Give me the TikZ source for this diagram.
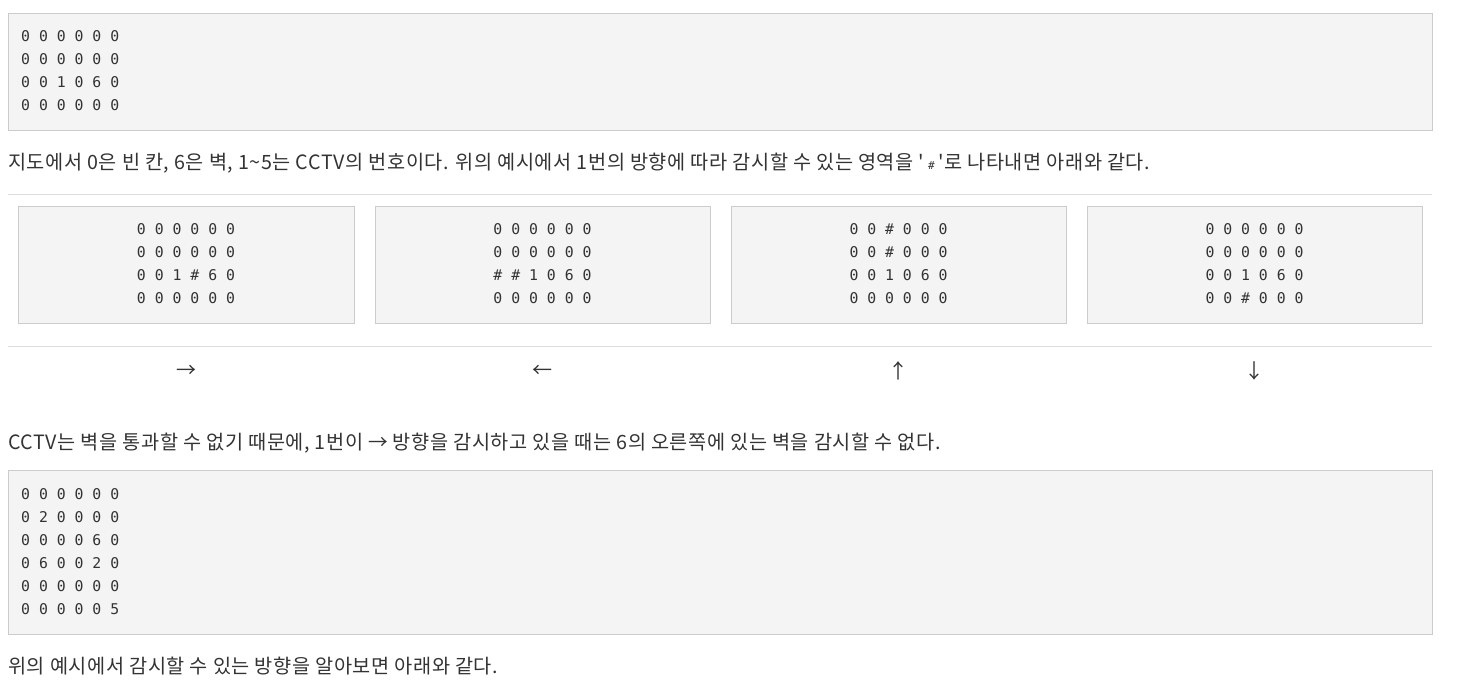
\documentclass[tikz,border=0pt]{standalone}
\usepackage{fontspec}
\setmainfont{Noto Sans CJK KR}
\newfontfamily\bodyfont[LetterSpace=3]{Noto Sans CJK KR}
\newfontfamily\codefont{DejaVu Sans Mono}
\definecolor{boxgray}{HTML}{F4F4F4}
\definecolor{boxline}{HTML}{CCCCCC}
\definecolor{ruleline}{HTML}{DDDDDD}
\definecolor{inkgray}{HTML}{333333}

\tikzset{
  codebox/.style={draw=boxline, fill=boxgray, line width=1pt, inner sep=0pt, anchor=north west},
  codetxt/.style={inner sep=0pt, text=inkgray, font=\codefont\fontsize{14.8}{23}\selectfont},
  bodytxt/.style={inner sep=0pt, anchor=base west, text=inkgray, font=\bodyfont\fontsize{19.7}{24}\selectfont},
  dirtxt/.style={inner sep=0pt, text=inkgray, font=\fontsize{20}{24}\selectfont},
}

\begin{document}
\begin{tikzpicture}[x=1pt, y=-1pt]
  \useasboundingbox (0,0) rectangle (1464,692);

  % first map
  \node [codebox, minimum width=1424pt, minimum height=117pt] (mapA) at (8,13) {};
  \foreach \row [count=\i] in {0 0 0 0 0 0, 0 0 0 0 0 0, 0 0 1 0 6 0, 0 0 0 0 0 0}
    \node [codetxt, anchor=base west] (mapA-\i) at (21, 19+23*\i) {\row};

  \node [bodytxt] (para1) at (8,170) {지도에서 0은 빈 칸, 6은 벽, 1\textasciitilde 5는 CCTV의 번호이다. 위의 예시에서 1번의 방향에 따라 감시할 수 있는 영역을 \textquotesingle\hspace{4pt}{\codefont\fontsize{11}{11}\selectfont\#}\hspace{4pt}\textquotesingle 로 나타내면 아래와 같다.};

  \coordinate (ruleA-l) at (8,195);
  \coordinate (ruleA-r) at (1432,195);
  \draw [ruleline, line width=1pt] (ruleA-l) -- (ruleA-r);

  % four directions of camera 1
  \node [codebox, minimum width=336pt, minimum height=117pt] (right) at (18,206) {};
  \node [codebox, minimum width=335pt, minimum height=117pt] (left) at (375,206) {};
  \node [codebox, minimum width=335pt, minimum height=117pt] (up) at (731,206) {};
  \node [codebox, minimum width=335pt, minimum height=117pt] (down) at (1087,206) {};

  \foreach \row [count=\i] in {0 0 0 0 0 0, 0 0 0 0 0 0, 0 0 1 \# 6 0, 0 0 0 0 0 0}
    \node [codetxt, anchor=base] (right-\i) at (186, 212+23*\i) {\row};
  \foreach \row [count=\i] in {0 0 0 0 0 0, 0 0 0 0 0 0, \# \# 1 0 6 0, 0 0 0 0 0 0}
    \node [codetxt, anchor=base] (left-\i) at (542.5, 212+23*\i) {\row};
  \foreach \row [count=\i] in {0 0 \# 0 0 0, 0 0 \# 0 0 0, 0 0 1 0 6 0, 0 0 0 0 0 0}
    \node [codetxt, anchor=base] (up-\i) at (898.5, 212+23*\i) {\row};
  \foreach \row [count=\i] in {0 0 0 0 0 0, 0 0 0 0 0 0, 0 0 1 0 6 0, 0 0 \# 0 0 0}
    \node [codetxt, anchor=base] (down-\i) at (1254.5, 212+23*\i) {\row};

  \coordinate (ruleB-l) at (8,347);
  \coordinate (ruleB-r) at (1432,347);
  \draw [ruleline, line width=1pt] (ruleB-l) -- (ruleB-r);

  \node [dirtxt] (arrR) at (186,371) {→};
  \node [dirtxt] (arrL) at (542.5,371) {←};
  \node [dirtxt] (arrU) at (898.5,371) {↑};
  \node [dirtxt] (arrD) at (1254.5,371) {↓};

  \node [bodytxt] (para2) at (8,449) {CCTV는 벽을 통과할 수 없기 때문에, 1번이 → 방향을 감시하고 있을 때는 6의 오른쪽에 있는 벽을 감시할 수 없다.};

  % second map
  \node [codebox, minimum width=1424pt, minimum height=164pt] (mapB) at (8,470) {};
  \foreach \row [count=\i] in {0 0 0 0 0 0, 0 2 0 0 0 0, 0 0 0 0 6 0, 0 6 0 0 2 0, 0 0 0 0 0 0, 0 0 0 0 0 5}
    \node [codetxt, anchor=base west] (mapB-\i) at (21, 476+23*\i) {\row};

  \node [bodytxt] (para3) at (8,673) {위의 예시에서 감시할 수 있는 방향을 알아보면 아래와 같다.};
\end{tikzpicture}
\end{document}
